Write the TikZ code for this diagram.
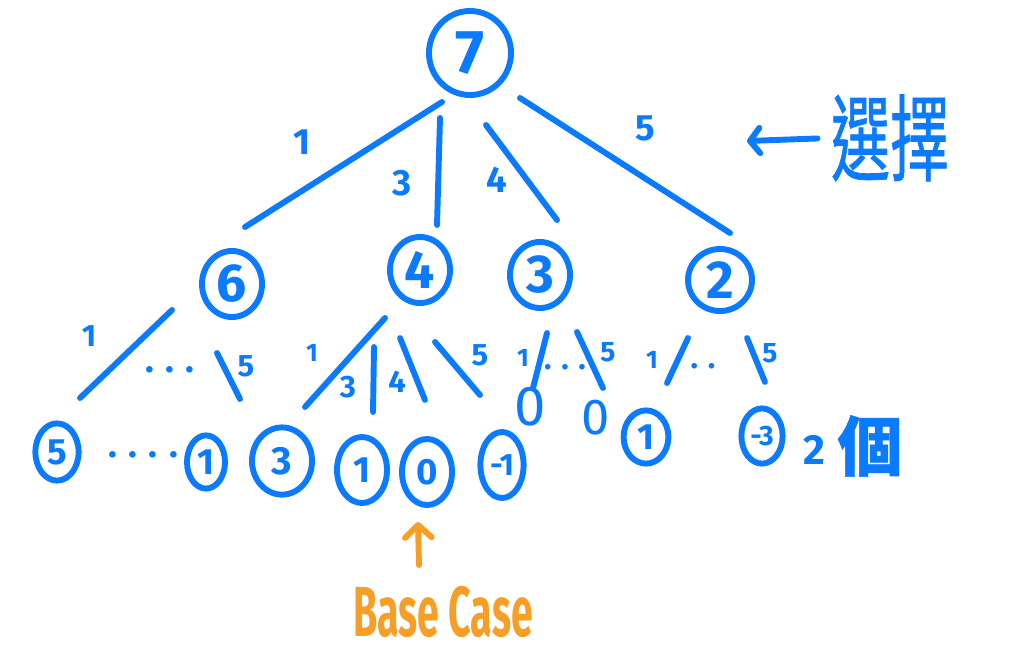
\documentclass[tikz,border=0pt]{standalone}
\usepackage{fontspec}
\usepackage{graphicx}
\setmainfont{Fira Sans}
\newfontfamily\cjkfont[FakeBold=0.8]{Noto Sans CJK TC}
\usetikzlibrary{arrows.meta,shapes.geometric}
\definecolor{penBlue}{RGB}{10,122,255}
\definecolor{penOrange}{RGB}{246,158,38}
\tikzset{
  bluepen/.style={penBlue,line width=4.2pt,line cap=round,line join=round},
  knot/.style={bluepen,draw,ellipse,inner sep=0pt,font=\bfseries\fontsize{#1}{#1}\selectfont},
  numtag/.style={penBlue,inner sep=0pt,font=\bfseries\fontsize{#1}{#1}\selectfont},
  twig/.style={bluepen},
  barb/.style={-{Straight Barb[length=7pt,width=18pt,round]}}
}

\begin{document}
\begin{tikzpicture}[x=0.025cm,y=-0.025cm]
\useasboundingbox (0,0) rectangle (1024,671);

\node[knot=44,minimum width=2.05cm,minimum height=2.1cm] (r7) at (470,53) {7};

\node[knot=38,minimum width=1.5cm,minimum height=1.65cm] (m6) at (232,284) {6};
\node[knot=38,minimum width=1.5cm,minimum height=1.65cm] (m4) at (420,270) {4};
\node[knot=38,minimum width=1.5cm,minimum height=1.65cm] (m3) at (540,275) {3};
\node[knot=38,minimum width=1.6cm,minimum height=1.55cm] (m2) at (720,280) {2};

\node[knot=26,minimum width=1.08cm,minimum height=1.43cm] (l5) at (57,452) {5};
\node[numtag=26] (l6dots) at (143,455) {. . . .};
\node[knot=26,minimum width=0.95cm,minimum height=1.33cm] (l1a) at (206,462) {1};
\node[knot=28,minimum width=1.5cm,minimum height=1.68cm] (l3) at (282,461) {3};
\node[knot=26,minimum width=1.25cm,minimum height=1.65cm] (l1b) at (362,470) {1};
\node[knot=26,minimum width=1.25cm,minimum height=1.65cm] (l0) at (427,472) {0};
\node[knot=22,minimum width=1.08cm,minimum height=1.65cm] (lm1) at (502,465) {-\kern-.1em1};
\node[numtag=40,font=\fontsize{40}{40}\selectfont] (z1) at (530,407) {0};
\node[numtag=36,font=\fontsize{36}{36}\selectfont] (z2) at (596,418) {0};
\node[knot=26,minimum width=1.12cm,minimum height=1.33cm] (l1c) at (646,437) {1};
\node[knot=20,minimum width=1.03cm,minimum height=1.38cm] (lm3) at (762,436) {-\kern-.1em3};
\node[numtag=30] (count) at (853,446) {\raisebox{4pt}{2}\hspace{0.3cm}{\cjkfont\fontsize{46}{46}\selectfont 個}};

\node[numtag=42,font=\cjkfont\fontsize{42}{42}\selectfont] (choice) at (890,138) {\scalebox{1}[1.6]{選擇}};
\coordinate (choiceTip) at (747,141);
\draw[twig,barb,shorten <=0.33cm] (choice.west) -- (choiceTip);

\draw[twig] ([shift={(-28,49)}]r7.center) -- ([shift={(13,-57)}]m6.center);
\draw[twig] ([shift={(-30,65)}]r7.center) -- ([shift={(17,-45)}]m4.center);
\draw[twig] ([shift={(16,72)}]r7.center) -- ([shift={(17,-55)}]m3.center);
\draw[twig] ([shift={(50,45)}]r7.center) -- ([shift={(10,-47)}]m2.center);
\node[numtag=26] (t1) at (302,142) {1};
\node[numtag=26] (t3) at (402,183) {3};
\node[numtag=26] (t4) at (497,180) {4};
\node[numtag=26] (t5) at (645,128) {5};

\draw[twig] ([shift={(-60,26)}]m6.center) -- ([shift={(23,-54)}]l5.center);
\draw[twig] ([shift={(-15,69)}]m6.center) -- ([shift={(34,-63)}]l1a.center);
\node[numtag=22] (s61) at (89,336) {1};
\node[numtag=26] (s6dots) at (170,370) {. . .};
\node[numtag=22] (s65) at (246,366) {5};

\draw[twig] ([shift={(-35,48)}]m4.center) -- ([shift={(23,-54)}]l3.center);
\draw[twig] ([shift={(-46,77)}]m4.center) -- ([shift={(11,-58)}]l1b.center);
\draw[twig] ([shift={(-20,68)}]m4.center) -- ([shift={(-2,-72)}]l0.center);
\draw[twig] ([shift={(15,72)}]m4.center) -- ([shift={(-22,-70)}]lm1.center);
\node[numtag=18] (s41) at (312,353) {1};
\node[numtag=22] (s43) at (348,387) {3};
\node[numtag=22] (s44) at (397,382) {4};
\node[numtag=22] (s45) at (480,355) {5};

\draw[twig] ([shift={(7,58)}]m3.center) -- ([shift={(3,-19)}]z1.center);
\draw[twig] ([shift={(37,57)}]m3.center) -- ([shift={(7,-30)}]z2.center);
\node[numtag=18] (s31) at (523,358) {1};
\node[numtag=22] (s3dots) at (565,367) {. . .};
\node[numtag=20] (s35) at (608,352) {5};

\draw[twig] ([shift={(-32,58)}]m2.center) -- ([shift={(21,-54)}]l1c.center);
\draw[twig] ([shift={(27,58)}]m2.center) -- ([shift={(3,-54)}]lm3.center);
\node[numtag=18] (s21) at (652,360) {1};
\node[numtag=22] (s2dots) at (703,366) {. .};
\node[numtag=20] (s25) at (770,353) {5};

\node[inner sep=0pt,text=penOrange,font=\bfseries\fontsize{28}{28}\selectfont] (base) at (443,612) {\scalebox{1}[1.8]{Base Case}};
\draw[twig,penOrange,-{Straight Barb[length=9pt,width=19pt,round]}] ([shift={(-24,-47)}]base.center) -- ([shift={(-9,50)}]l0.center);

\end{tikzpicture}
\end{document}
